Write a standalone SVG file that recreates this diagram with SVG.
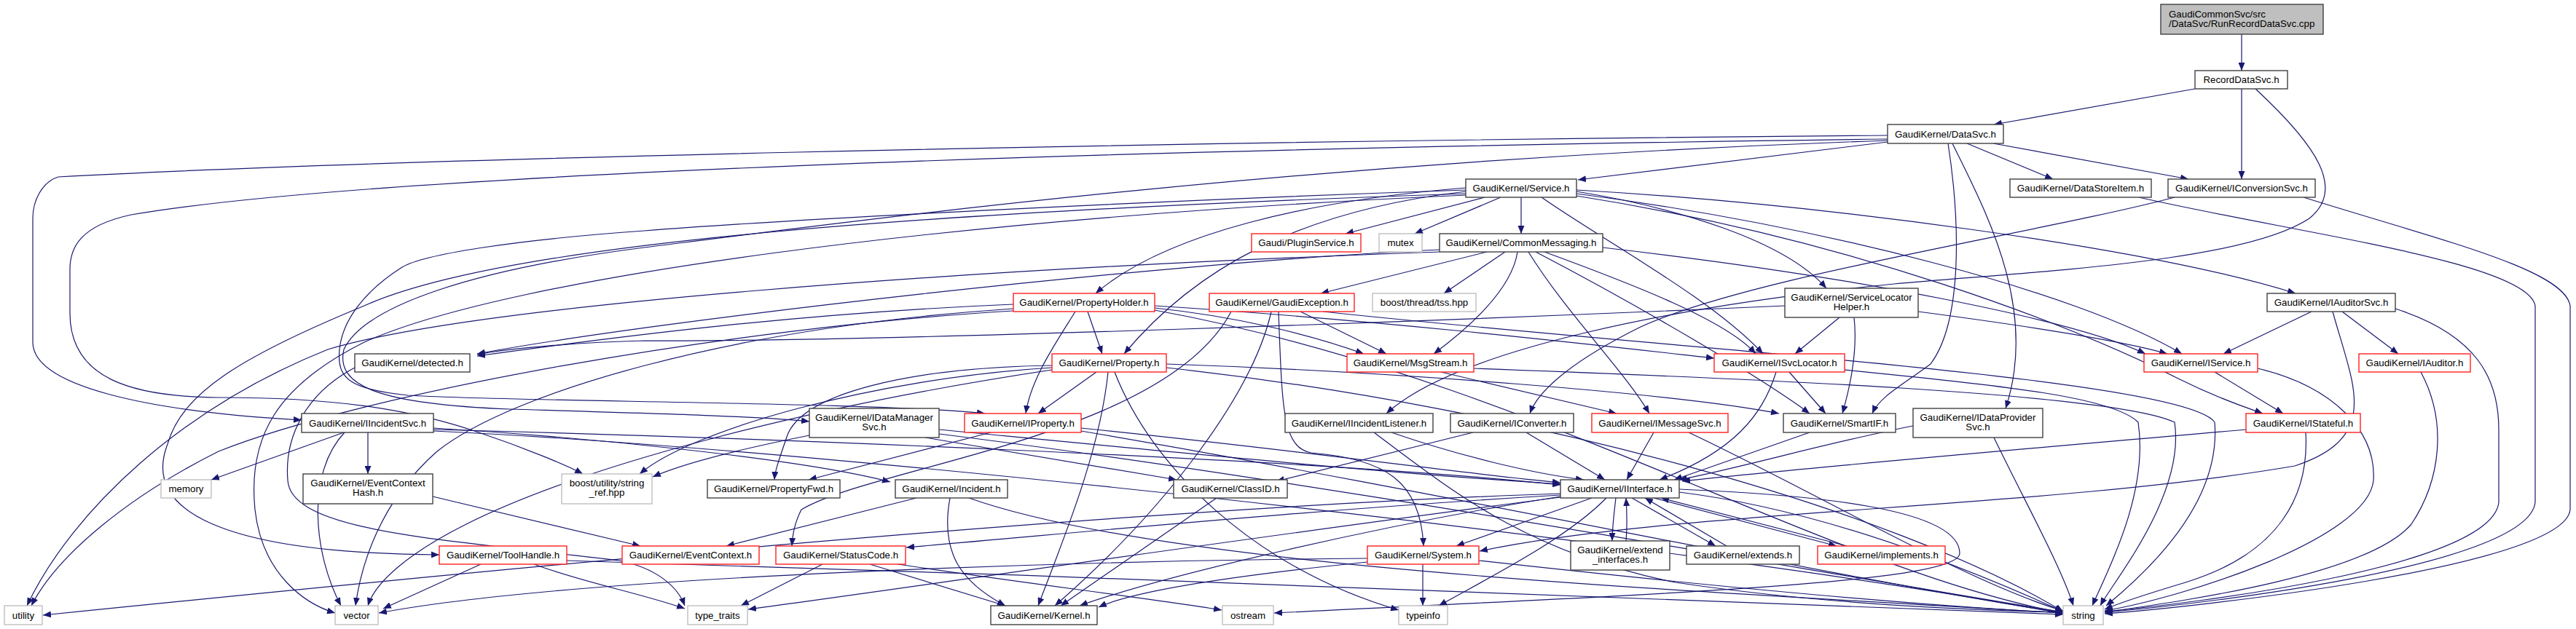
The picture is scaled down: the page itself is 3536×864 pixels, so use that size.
<svg xmlns="http://www.w3.org/2000/svg" width="3536" height="864" viewBox="0 0 3536 864">
<style>
.b{fill:#fff;stroke:#404040;stroke-width:1.4}
.r{fill:#fff;stroke:#ff2020;stroke-width:1.4}
.g{fill:#fff;stroke:#bfbfbf;stroke-width:1.4}
.root{fill:#bfbfbf;stroke:#404040;stroke-width:1.4}
text{font-family:"Liberation Sans",Arial,sans-serif;font-size:13.3px;fill:#000;text-anchor:middle}
.e path{fill:none;stroke:#191970;stroke-width:1.2;marker-end:url(#ah)}
</style>
<defs>
<marker id="ah" viewBox="0 0 11 9" refX="11" refY="4.5" markerWidth="11" markerHeight="9" markerUnits="userSpaceOnUse" orient="auto"><path d="M0,0 L11,4.5 L0,9 z" fill="#191970"/></marker>
</defs>
<rect x="0" y="0" width="3536" height="864" fill="#fff"/>
<g id="edges" class="e">
<path d="M3077,47 L3077,97"/>
<path d="M3013,122 L2737,171"/>
<path d="M3077,122 L3077,246"/>
<path d="M3096,122 C3180,200 3220,260 3170,300 C3080,360 2800,372 2600,390 C2300,420 2000,480 1903,568"/>
<path d="M2985,271 C2800,320 2400,380 2250,450 C2150,500 2110,540 2100,568"/>
<path d="M2591,195 L2166,247"/>
<path d="M2700,197 L2818,246"/>
<path d="M2736,197 L3004,246"/>
<path d="M2680,197 C2720,280 2800,420 2753,561"/>
<path d="M2674,197 C2690,300 2695,440 2650,500 C2610,530 2580,545 2570,568"/>
<path d="M2591,186 C1500,195 500,220 80,243 C58,250 45,275 45,300 L45,470 C45,530 200,565 414,577"/>
<path d="M2591,191 C1500,205 500,240 180,295 C110,310 96,340 96,370 L96,430 C96,520 180,545 300,546 C450,546 560,560 660,595 C720,615 780,640 800,651"/>
<path d="M2591,193 C1800,220 1200,300 884,340 C650,370 500,420 472,480 C460,530 520,555 700,562 C900,568 1050,572 1111,579"/>
<path d="M2038,271 L1847,321"/>
<path d="M2060,271 L1942,321"/>
<path d="M2088,271 L2088,321"/>
<path d="M2116,271 C2200,330 2350,410 2420,486"/>
<path d="M2164,263 C2300,285 2450,330 2507,396"/>
<path d="M2164,266 C2500,310 2850,400 2995,486"/>
<path d="M2164,261 C2500,280 2950,340 3151,403"/>
<path d="M2164,269 C2550,330 2850,450 2990,520 C3050,550 3085,560 3106,568"/>
<path d="M2012,258 C1800,275 1600,320 1504,403"/>
<path d="M2012,263 C1780,290 1640,370 1543,486"/>
<path d="M2012,261 C1600,275 1100,300 884,317 C700,330 580,350 552,367 C500,400 470,440 466,480 C462,520 480,535 560,543 C700,552 1200,552 1352,568"/>
<path d="M2012,266 C1300,290 700,330 500,420 C330,490 250,540 230,610 C195,700 300,760 603,762"/>
<path d="M2012,268 C1300,300 700,380 500,470 C380,530 340,600 350,700 C360,790 420,830 460,842"/>
<path d="M2041,346 L1813,403"/>
<path d="M2066,346 L1982,403"/>
<path d="M2083,346 C2075,400 2010,455 1968,486"/>
<path d="M2098,346 C2150,430 2230,510 2264,568"/>
<path d="M2108,346 C2250,420 2420,520 2484,568"/>
<path d="M2120,346 C2240,390 2370,440 2410,486"/>
<path d="M2200,340 C2550,380 2850,440 2945,486"/>
<path d="M1976,343 C1600,360 900,440 655,486"/>
<path d="M1976,346 C1300,370 650,420 450,480 C250,560 100,700 37,832"/>
<path d="M1476,428 C1450,470 1415,520 1408,568"/>
<path d="M1493,428 L1513,486"/>
<path d="M1391,418 C1100,430 850,462 655,489"/>
<path d="M1585,420 C1900,440 2200,475 2353,492"/>
<path d="M1585,423 C1700,435 1800,460 1872,486"/>
<path d="M1391,424 C1000,450 700,540 600,620 C520,690 495,780 488,832"/>
<path d="M1391,427 C1000,450 500,540 300,620 C180,680 80,760 43,832"/>
<path d="M1585,426 C2100,520 2500,780 2832,842"/>
<path d="M1505,511 L1425,568"/>
<path d="M1444,502 C1250,505 1100,540 1080,600 C1070,630 1064,645 1063,659"/>
<path d="M1521,511 C1510,620 1460,740 1425,832"/>
<path d="M1444,505 C1200,520 950,590 878,651"/>
<path d="M1601,500 C1900,510 2300,540 2442,568"/>
<path d="M1530,511 C1580,640 1720,780 1920,838"/>
<path d="M1444,508 C1100,560 800,640 640,720 C560,760 515,800 505,832"/>
<path d="M1601,505 C2100,560 2600,700 2832,840"/>
<path d="M1785,428 L1903,486"/>
<path d="M1745,428 C1720,540 1600,700 1448,832"/>
<path d="M1755,428 C1760,560 1760,615 1800,622 C1900,630 1950,660 1954,750"/>
<path d="M1690,428 C1600,600 1200,640 1100,700 C1090,720 1088,735 1087,750"/>
<path d="M1816,428 C2300,480 3000,520 3040,580 C3050,700 2930,800 2891,832"/>
<path d="M1978,511 L2219,568"/>
<path d="M2023,506 C2400,520 2900,540 2985,580 C3000,680 2900,800 2883,832"/>
<path d="M2456,511 L2506,568"/>
<path d="M2438,511 C2420,570 2380,620 2278,659"/>
<path d="M2532,508 C2750,530 2900,545 2935,580 C2950,680 2890,790 2872,832"/>
<path d="M2525,436 L2464,486"/>
<path d="M2545,436 C2550,480 2540,530 2529,568"/>
<path d="M2633,428 C2800,450 2920,470 2975,486"/>
<path d="M2450,420 C2000,440 1200,470 884,468 C800,470 700,478 655,487"/>
<path d="M3173,428 L3052,486"/>
<path d="M3215,428 L3292,486"/>
<path d="M3202,428 C3230,530 3270,600 3150,640 C2800,700 2300,700 2031,757"/>
<path d="M3288,424 C3400,460 3430,520 3430,590 L3430,690 C3420,780 3000,830 2889,840"/>
<path d="M2936,271 C3150,320 3470,360 3480,420 L3480,690 C3470,780 3000,832 2889,841"/>
<path d="M3162,271 C3350,330 3520,370 3528,420 L3528,700 C3520,780 3000,835 2889,843"/>
<path d="M3323,511 C3360,580 3350,660 3310,720 C3250,790 3000,825 2889,841"/>
<path d="M3040,511 L3134,568"/>
<path d="M3099,506 C3200,530 3262,590 3258,660 C3250,740 3000,820 2889,839"/>
<path d="M3083,590 C2800,615 2500,640 2309,661"/>
<path d="M3165,594 C3170,680 3130,760 3000,800 C2950,815 2910,828 2889,837"/>
<path d="M2626,585 C2500,610 2400,640 2305,659"/>
<path d="M2737,601 C2780,690 2830,780 2846,832"/>
<path d="M2484,594 L2298,659"/>
<path d="M2270,594 L2233,659"/>
<path d="M2318,594 C2500,680 2700,800 2832,839"/>
<path d="M2095,594 L2203,659"/>
<path d="M2022,594 L1752,661"/>
<path d="M1910,594 C2000,625 2100,650 2174,659"/>
<path d="M1886,594 C2000,680 2100,760 2300,800 C2500,830 2700,838 2832,841"/>
<path d="M472,594 L290,659"/>
<path d="M505,594 L505,651"/>
<path d="M473,594 C420,650 430,760 468,832"/>
<path d="M595,588 C800,600 1100,630 1222,662"/>
<path d="M595,590 C1000,600 1800,630 2142,666"/>
<path d="M595,592 C1200,620 2400,760 2832,843"/>
<path d="M594,682 L879,750"/>
<path d="M660,775 L526,836"/>
<path d="M733,775 C800,800 880,815 940,836"/>
<path d="M778,770 C1500,790 2400,830 2832,844"/>
<path d="M1129,775 L1017,832"/>
<path d="M1194,775 L1380,832"/>
<path d="M1232,775 C1400,800 1600,825 1677,838"/>
<path d="M1258,684 L997,750"/>
<path d="M1304,684 C1290,760 1320,800 1380,832"/>
<path d="M1330,684 C1600,780 2300,810 2832,842"/>
<path d="M1670,684 L1456,832"/>
<path d="M1953,775 L1953,832"/>
<path d="M1877,772 C1700,790 1560,810 1508,834"/>
<path d="M1877,767 C1500,770 800,790 520,842"/>
<path d="M2030,770 C2300,800 2600,830 2832,842"/>
<path d="M487,505 C420,540 390,600 395,660 C400,730 600,740 850,770 C900,780 930,805 940,832"/>
<path d="M1270,601 L1615,659"/>
<path d="M1289,590 C1600,620 1900,650 2142,665"/>
<path d="M1289,596 C1800,660 2400,770 2832,841"/>
<path d="M1111,598 C1000,620 930,640 896,655"/>
<path d="M1360,594 L1110,659"/>
<path d="M1484,588 C1800,620 2000,650 2142,663"/>
<path d="M1484,592 C2000,680 2500,790 2832,842"/>
<path d="M2142,680 C1800,700 1500,730 1244,752"/>
<path d="M2185,684 L1999,750"/>
<path d="M2205,684 C2150,740 2050,790 1975,832"/>
<path d="M2142,682 C1900,720 1600,790 1482,832"/>
<path d="M2142,683 C1700,740 1300,800 1027,837"/>
<path d="M2305,672 C2500,680 2690,700 2690,760 C2690,800 2300,815 1749,842"/>
<path d="M2142,678 C1500,700 600,790 59,845"/>
<path d="M2305,676 C2500,700 2700,780 2832,840"/>
<path d="M2218,684 C2215,710 2213,725 2213,743"/>
<path d="M2232,743 C2234,720 2233,700 2232,684"/>
<path d="M2240,684 L2355,750"/>
<path d="M2370,750 L2258,684"/>
<path d="M2270,684 L2521,750"/>
<path d="M2535,750 L2280,684"/>
</g>
<g id="n_root"><rect class="root" x="2966" y="6" width="223" height="41"/><text x="2977" y="23.5" style="text-anchor:start">GaudiCommonSvc/src</text><text x="2977" y="37" style="text-anchor:start">/DataSvc/RunRecordDataSvc.cpp</text></g>
<g id="n_RecordDataSvc"><rect class="b" x="3013" y="97" width="127" height="25"/><text x="3076.5" y="114">RecordDataSvc.h</text></g>
<g id="n_DataSvc"><rect class="b" x="2591" y="171" width="159" height="26"/><text x="2670.5" y="188.5">GaudiKernel/DataSvc.h</text></g>
<g id="n_Service"><rect class="b" x="2012" y="246" width="152" height="25"/><text x="2088" y="263">GaudiKernel/Service.h</text></g>
<g id="n_DataStoreItem"><rect class="b" x="2759" y="246" width="194" height="25"/><text x="2856" y="263">GaudiKernel/DataStoreItem.h</text></g>
<g id="n_IConversionSvc"><rect class="b" x="2976" y="246" width="202" height="25"/><text x="3077" y="263">GaudiKernel/IConversionSvc.h</text></g>
<g id="n_PluginService"><rect class="r" x="1718" y="321" width="150" height="25"/><text x="1793" y="338">Gaudi/PluginService.h</text></g>
<g id="n_mutex"><rect class="g" x="1893" y="321" width="59" height="25"/><text x="1922.5" y="338">mutex</text></g>
<g id="n_CommonMessaging"><rect class="b" x="1976" y="321" width="224" height="25"/><text x="2088" y="338">GaudiKernel/CommonMessaging.h</text></g>
<g id="n_PropertyHolder"><rect class="r" x="1391" y="403" width="194" height="25"/><text x="1488" y="420">GaudiKernel/PropertyHolder.h</text></g>
<g id="n_GaudiException"><rect class="r" x="1660" y="403" width="199" height="25"/><text x="1759.5" y="420">GaudiKernel/GaudiException.h</text></g>
<g id="n_tss"><rect class="g" x="1884" y="403" width="142" height="25"/><text x="1955" y="420">boost/thread/tss.hpp</text></g>
<g id="n_ServiceLocatorHelper"><rect class="b" x="2450" y="396" width="183" height="40"/><text x="2541.5" y="412.5">GaudiKernel/ServiceLocator</text><text x="2541.5" y="426">Helper.h</text></g>
<g id="n_IAuditorSvc"><rect class="b" x="3112" y="403" width="176" height="25"/><text x="3200" y="420">GaudiKernel/IAuditorSvc.h</text></g>
<g id="n_detected"><rect class="b" x="487" y="486" width="158" height="25"/><text x="566" y="503">GaudiKernel/detected.h</text></g>
<g id="n_Property"><rect class="r" x="1444" y="486" width="157" height="25"/><text x="1522.5" y="503">GaudiKernel/Property.h</text></g>
<g id="n_MsgStream"><rect class="r" x="1849" y="486" width="174" height="25"/><text x="1936" y="503">GaudiKernel/MsgStream.h</text></g>
<g id="n_ISvcLocator"><rect class="r" x="2353" y="486" width="179" height="25"/><text x="2442.5" y="503">GaudiKernel/ISvcLocator.h</text></g>
<g id="n_IService"><rect class="r" x="2943" y="486" width="156" height="25"/><text x="3021" y="503">GaudiKernel/IService.h</text></g>
<g id="n_IAuditor"><rect class="r" x="3238" y="486" width="153" height="25"/><text x="3314.5" y="503">GaudiKernel/IAuditor.h</text></g>
<g id="n_IIncidentSvc"><rect class="b" x="414" y="568" width="181" height="26"/><text x="504.5" y="585.5">GaudiKernel/IIncidentSvc.h</text></g>
<g id="n_IDataManagerSvc"><rect class="b" x="1111" y="561" width="178" height="40"/><text x="1200" y="577.5">GaudiKernel/IDataManager</text><text x="1200" y="591">Svc.h</text></g>
<g id="n_IProperty"><rect class="r" x="1324" y="568" width="160" height="26"/><text x="1404" y="585.5">GaudiKernel/IProperty.h</text></g>
<g id="n_IIncidentListener"><rect class="b" x="1764" y="568" width="203" height="26"/><text x="1865.5" y="585.5">GaudiKernel/IIncidentListener.h</text></g>
<g id="n_IConverter"><rect class="b" x="1991" y="568" width="169" height="26"/><text x="2075.5" y="585.5">GaudiKernel/IConverter.h</text></g>
<g id="n_IMessageSvc"><rect class="r" x="2185" y="568" width="187" height="26"/><text x="2278.5" y="585.5">GaudiKernel/IMessageSvc.h</text></g>
<g id="n_SmartIF"><rect class="b" x="2448" y="568" width="154" height="26"/><text x="2525" y="585.5">GaudiKernel/SmartIF.h</text></g>
<g id="n_IDataProviderSvc"><rect class="b" x="2626" y="561" width="178" height="40"/><text x="2715" y="577.5">GaudiKernel/IDataProvider</text><text x="2715" y="591">Svc.h</text></g>
<g id="n_IStateful"><rect class="r" x="3083" y="568" width="157" height="26"/><text x="3161.5" y="585.5">GaudiKernel/IStateful.h</text></g>
<g id="n_memory"><rect class="g" x="221" y="659" width="69" height="25"/><text x="255.5" y="676">memory</text></g>
<g id="n_EventContextHash"><rect class="b" x="416" y="651" width="178" height="41"/><text x="505" y="667.5">GaudiKernel/EventContext</text><text x="505" y="681">Hash.h</text></g>
<g id="n_string_ref"><rect class="g" x="771" y="651" width="124" height="41"/><text x="833" y="667.5">boost/utility/string</text><text x="833" y="681">_ref.hpp</text></g>
<g id="n_PropertyFwd"><rect class="b" x="971" y="659" width="182" height="25"/><text x="1062" y="676">GaudiKernel/PropertyFwd.h</text></g>
<g id="n_Incident"><rect class="b" x="1229" y="659" width="154" height="25"/><text x="1306" y="676">GaudiKernel/Incident.h</text></g>
<g id="n_ClassID"><rect class="b" x="1611" y="659" width="156" height="25"/><text x="1689" y="676">GaudiKernel/ClassID.h</text></g>
<g id="n_IInterface"><rect class="b" x="2142" y="659" width="163" height="25"/><text x="2223.5" y="676">GaudiKernel/IInterface.h</text></g>
<g id="n_ToolHandle"><rect class="r" x="603" y="750" width="175" height="25"/><text x="690.5" y="767">GaudiKernel/ToolHandle.h</text></g>
<g id="n_EventContext"><rect class="r" x="854" y="750" width="188" height="25"/><text x="948" y="767">GaudiKernel/EventContext.h</text></g>
<g id="n_StatusCode"><rect class="r" x="1065" y="750" width="178" height="25"/><text x="1154" y="767">GaudiKernel/StatusCode.h</text></g>
<g id="n_System"><rect class="r" x="1877" y="750" width="153" height="25"/><text x="1953.5" y="767">GaudiKernel/System.h</text></g>
<g id="n_extend_interfaces"><rect class="b" x="2156" y="743" width="136" height="40"/><text x="2224" y="759.5">GaudiKernel/extend</text><text x="2224" y="773">_interfaces.h</text></g>
<g id="n_extends"><rect class="b" x="2315" y="750" width="155" height="25"/><text x="2392.5" y="767">GaudiKernel/extends.h</text></g>
<g id="n_implements"><rect class="r" x="2495" y="750" width="175" height="25"/><text x="2582.5" y="767">GaudiKernel/implements.h</text></g>
<g id="n_utility"><rect class="g" x="6" y="832" width="52" height="26"/><text x="32" y="849.5">utility</text></g>
<g id="n_vector"><rect class="g" x="460" y="832" width="59" height="26"/><text x="489.5" y="849.5">vector</text></g>
<g id="n_type_traits"><rect class="g" x="944" y="832" width="82" height="26"/><text x="985" y="849.5">type_traits</text></g>
<g id="n_Kernel"><rect class="b" x="1360" y="832" width="146" height="26"/><text x="1433" y="849.5">GaudiKernel/Kernel.h</text></g>
<g id="n_ostream"><rect class="g" x="1678" y="832" width="70" height="26"/><text x="1713" y="849.5">ostream</text></g>
<g id="n_typeinfo"><rect class="g" x="1920" y="832" width="67" height="26"/><text x="1953.5" y="849.5">typeinfo</text></g>
<g id="n_string"><rect class="g" x="2832" y="832" width="55" height="26"/><text x="2859.5" y="849.5">string</text></g>
</svg>
